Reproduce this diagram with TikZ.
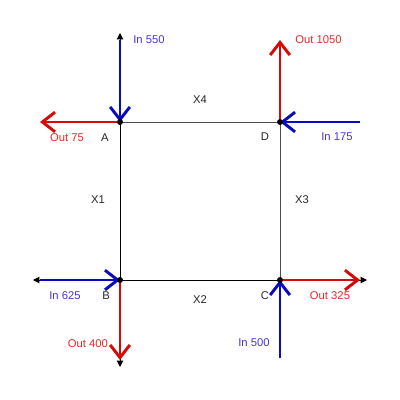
\documentclass[tikz,border=0pt]{standalone}
\usepackage{fontspec}
\setmainfont{Liberation Sans}
\usetikzlibrary{arrows.meta}
\usetikzlibrary{positioning}
\definecolor{inblue}{RGB}{10,10,190}
\definecolor{outred}{RGB}{215,10,10}
\definecolor{inlabel}{RGB}{70,50,220}
\definecolor{outlabel}{RGB}{230,40,40}
\tikzset{
  corner/.style={circle,fill=black,inner sep=0pt,minimum size=4pt},
  axis/.style={black,line width=0.7pt,{Triangle[length=4.5pt,width=4.5pt]}-{Triangle[length=4.5pt,width=4.5pt]}},
  side/.style={black!70,line width=0.7pt},
  inarrow/.style={inblue,line width=2.1pt,-{Straight Barb[length=9pt,width=14pt]}},
  outarrow/.style={outred,line width=2.1pt,-{Straight Barb[length=9pt,width=14pt]}},
  inlab/.style={text=inlabel,font=\fontsize{8}{9.6}\selectfont,inner sep=0pt},
  outlab/.style={text=outlabel,font=\fontsize{8}{9.6}\selectfont,inner sep=0pt},
  lab/.style={text=black!85,font=\fontsize{8}{9.6}\selectfont,inner sep=0pt}
}
\begin{document}
\begin{tikzpicture}[x=0.025cm,y=-0.025cm]
\useasboundingbox (0,0) rectangle (400,400);
% corners
\node[corner](A) at (120,122){};
\node[corner](D) at (280,122){};
\node[corner](B) at (120,280){};
\node[corner](C) at (280,280){};
% axis ends
\coordinate (top) at (120,33);
\coordinate (bottom) at (120,367);
\coordinate (left) at (33,280);
\coordinate (right) at (367,280);
% flow ends
\coordinate (in550) at (120,40);
\coordinate (out75) at (40,122);
\coordinate (out1050) at (280,40);
\coordinate (in175) at (360,122);
\coordinate (in625) at (40,280);
\coordinate (out400) at (120,360);
\coordinate (out325) at (360,280);
\coordinate (in500) at (280,358);
% square
\draw[side] (A) -- (D) -- (C);
\draw[axis] (top) -- (bottom);
\draw[axis] (left) -- (right);
% flows
\draw[inarrow] (in550) -- (A.center);
\draw[outarrow] (A.center) -- (out75);
\draw[outarrow] (D.center) -- (out1050);
\draw[inarrow] (in175) -- (D.center);
\draw[inarrow] (in625) -- (B.center);
\draw[outarrow] (B.center) -- (out400);
\draw[outarrow] (C.center) -- (out325);
\draw[inarrow] (in500) -- (C.center);
\node[corner] at (A){};
\node[corner] at (B){};
\node[corner] at (C){};
\node[corner] at (D){};
% labels
\node[inlab,anchor=west](l550) at (133,40){In 550};
\node[outlab](l75) at (67,138){Out 75};
\node[lab](la) at (105,138){A};
\node[lab](lx4) at (200,100){X4};
\node[lab](ld) at (265,137){D};
\node[outlab,anchor=west](l1050) at (295,40){Out 1050};
\node[inlab](l175) at (337,137){In 175};
\node[lab](lx1) at (98,200){X1};
\node[lab](lx3) at (302,200){X3};
\node[inlab](l625) at (65,296){In 625};
\node[lab](lb) at (106,296){B};
\node[lab](lx2) at (200,300){X2};
\node[lab](lc) at (265,296){C};
\node[outlab](l325) at (330,296){Out 325};
\node[outlab](l400) at (88,344){Out 400};
\node[inlab](l500) at (254,343){In 500};
\end{tikzpicture}
\end{document}
